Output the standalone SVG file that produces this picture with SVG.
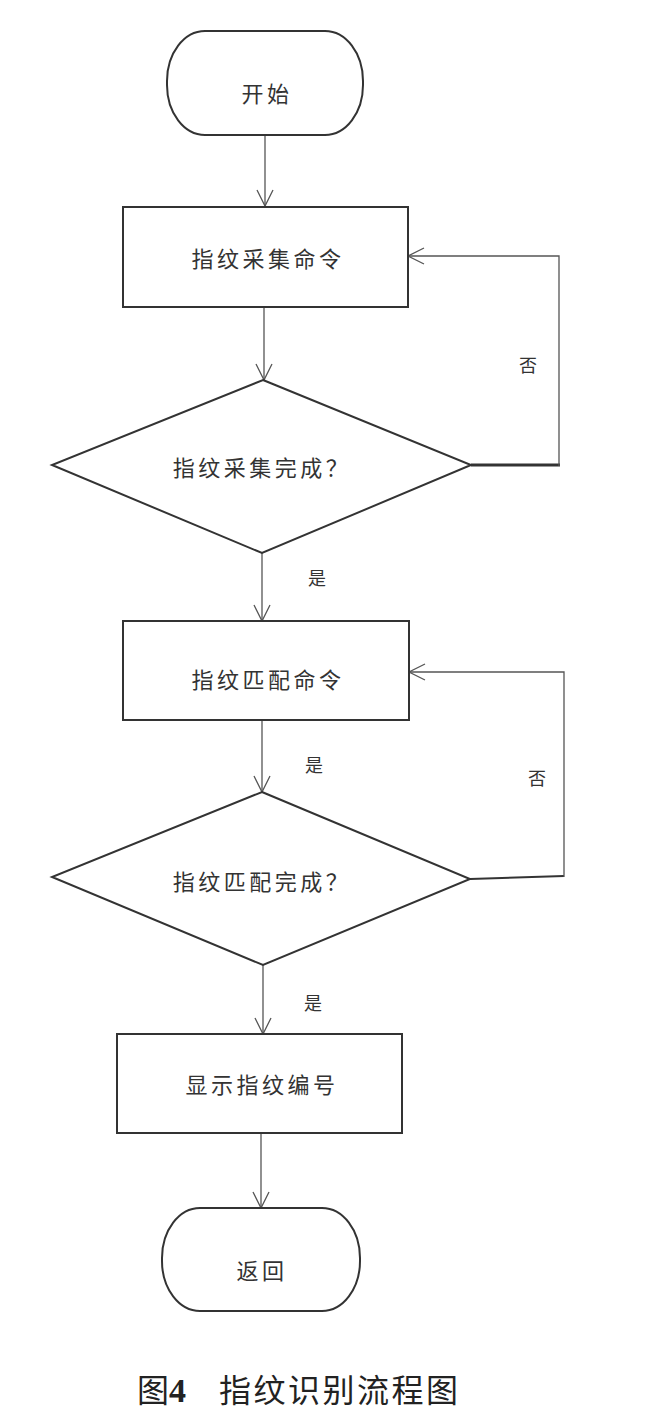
<svg xmlns="http://www.w3.org/2000/svg" width="649" height="1410" viewBox="0 0 649 1410">
<style>
.node{fill:#fff;stroke:#333;stroke-width:2}
.lbl{font-family:"Noto Sans CJK SC","Liberation Sans",sans-serif;font-size:22px;fill:#333;text-anchor:middle;dominant-baseline:central;letter-spacing:3.5px}
.yn{font-family:"Noto Sans CJK SC","Liberation Sans",sans-serif;font-size:18px;fill:#333;text-anchor:middle;dominant-baseline:central}
.conn{fill:none;stroke:#555;stroke-width:1.3}
.thick{fill:none;stroke:#333;stroke-width:3}
.cap{font-family:"Noto Sans CJK SC","Liberation Sans",sans-serif;font-size:32px;fill:#222}
.num{font-family:"Liberation Serif",serif;font-weight:bold;font-size:34px}
</style>
<defs>
<marker id="arr" viewBox="0 0 20 20" refX="18" refY="10" markerWidth="20" markerHeight="20" markerUnits="userSpaceOnUse" orient="auto">
<path d="M2,2 L18,10 L2,18" fill="none" stroke="#555" stroke-width="1.3"/>
</marker>
</defs>
<rect width="649" height="1410" fill="#fff"/>
<g id="connectors">
<line class="conn" x1="265" y1="135" x2="265" y2="206" marker-end="url(#arr)"/>
<line class="conn" x1="264" y1="307" x2="264" y2="380" marker-end="url(#arr)"/>
<line class="conn" x1="262" y1="553" x2="262" y2="621" marker-end="url(#arr)"/>
<line class="conn" x1="262" y1="720" x2="262" y2="792" marker-end="url(#arr)"/>
<line class="conn" x1="263" y1="965" x2="263" y2="1034" marker-end="url(#arr)"/>
<line class="conn" x1="261" y1="1133" x2="261" y2="1208" marker-end="url(#arr)"/>
<line class="thick" x1="471" y1="465" x2="560" y2="465"/>
<polyline class="conn" points="559,466 559,256 408,256" marker-end="url(#arr)"/>
<polyline points="470,879 564,876" fill="none" stroke="#333" stroke-width="2"/>
<polyline class="conn" points="564,877 564,672 409,672" stroke="#333" stroke-width="1.8" marker-end="url(#arr)"/>
<text class="yn" x="528" y="364">否</text>
<text class="yn" x="317" y="577">是</text>
<text class="yn" x="537" y="777">否</text>
<text class="yn" x="314" y="764">是</text>
<text class="yn" x="313" y="1002">是</text>
</g>
<g id="start">
<rect class="node" x="167" y="31" width="196" height="104" rx="38" ry="50"/>
<text class="lbl" x="267" y="92">开始</text>
</g>
<g id="collect">
<rect class="node" x="123" y="207" width="285" height="100"/>
<text class="lbl" x="268" y="257">指纹采集命令</text>
</g>
<g id="collectDone">
<polygon class="node" points="263,380 471,465 262,553 52,465"/>
<text class="lbl" x="262" y="466">指纹采集完成？</text>
</g>
<g id="match">
<rect class="node" x="123" y="621" width="286" height="99"/>
<text class="lbl" x="268" y="678">指纹匹配命令</text>
</g>
<g id="matchDone">
<polygon class="node" points="262,792 470,879 263,965 52,877"/>
<text class="lbl" x="262" y="880">指纹匹配完成？</text>
</g>
<g id="show">
<rect class="node" x="117" y="1034" width="285" height="99"/>
<text class="lbl" x="262" y="1083">显示指纹编号</text>
</g>
<g id="return">
<rect class="node" x="162" y="1208" width="198" height="103" rx="38" ry="50"/>
<text class="lbl" x="262" y="1269">返回</text>
</g>
<g id="caption">
<text class="cap" x="137" y="1402">图<tspan class="num">4</tspan><tspan x="219" letter-spacing="2.5">指纹识别流程图</tspan></text>
</g>
</svg>
